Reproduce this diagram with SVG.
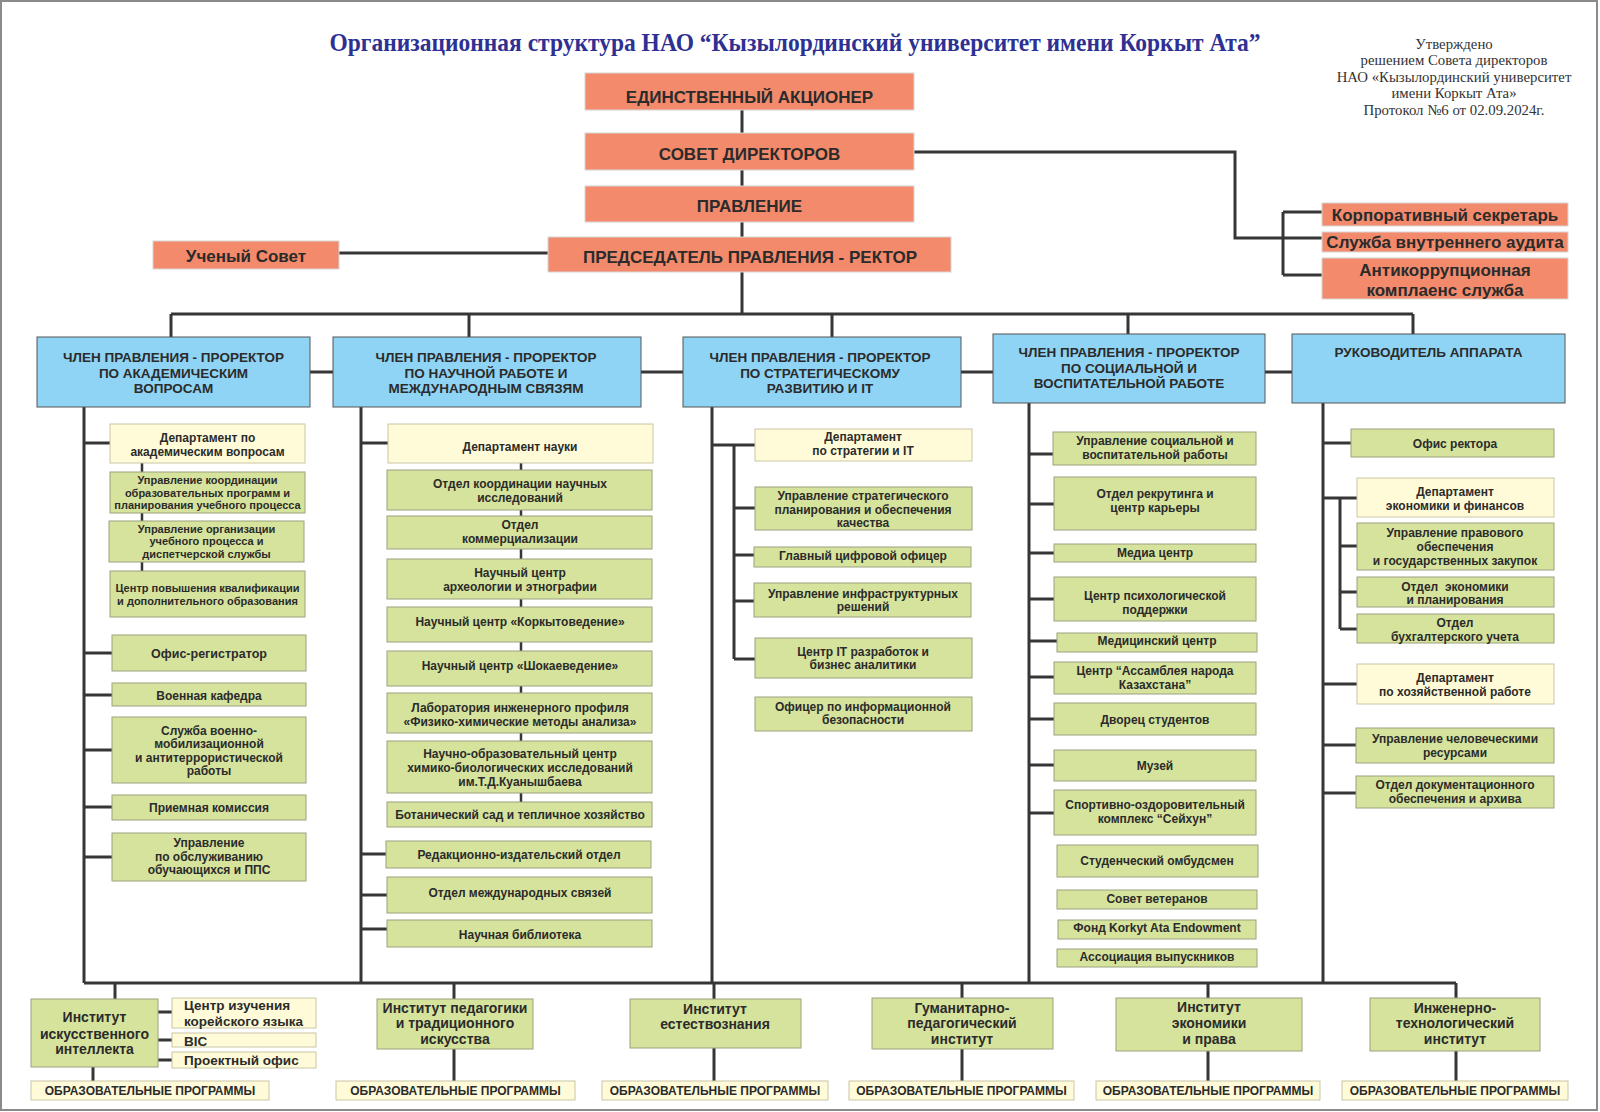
<svg xmlns="http://www.w3.org/2000/svg" width="1600" height="1112" viewBox="0 0 1600 1112">
<style>
.o{fill:#f38a6c;stroke:#d6d6d6;stroke-width:1}
.h{fill:#8fd4f5;stroke:#555;stroke-width:1}
.g{fill:#d6e39c;stroke:#9ca27e;stroke-width:1}
.c{fill:#fffbd8;stroke:#c9c6a6;stroke-width:1}
.ln{stroke:#363636;stroke-width:3;fill:none}
.lt{stroke:#363636;stroke-width:2.5;fill:none}
text{font-family:"Liberation Sans",Arial,sans-serif;font-weight:bold;fill:#2b2b2b;text-anchor:middle}
.to{font-size:17px}
.th{font-size:13.5px}
.s11{font-size:11px}
.s12{font-size:12px}
.s125{font-size:12.5px}
.ti{font-size:14px}
.tp{font-size:12px}
.tl{text-anchor:start;font-size:13.5px}
text.title{font-family:"Liberation Serif","Times New Roman",serif;font-size:25px;fill:#2e3192}
text.appr{font-family:"Liberation Serif","Times New Roman",serif;font-weight:normal;font-size:14.8px;fill:#333}
</style>
<rect x="1" y="1" width="1596" height="1109" fill="#fff" stroke="#8a8a8a" stroke-width="2"/>
<text class="title" x="795" y="51" textLength="931" lengthAdjust="spacingAndGlyphs">Организационная структура НАО “Кызылординский университет имени Коркыт Ата”</text>
<g id="approval">
<text class="appr" x="1454" y="48.5">Утверждено</text>
<text class="appr" x="1454" y="65">решением Совета директоров</text>
<text class="appr" x="1454" y="81.5">НАО «Кызылординский университет</text>
<text class="appr" x="1454" y="98">имени Коркыт Ата»</text>
<text class="appr" x="1454" y="114.5">Протокол №6 от 02.09.2024г.</text>
</g>

<g id="connectors">
<path class="ln" d="M742 110V133M742 170V186M742 222V237M742 272V314"/>
<path class="ln" d="M914 152H1235V238H1322M1283 212V275M1283 212H1322M1283 275H1322"/>
<path class="ln" d="M339 253H548" stroke-width="4"/>
<path class="ln" d="M171 314H1413M171 314V337M469 314V337M832 314V337M1128 314V334M1413 314V334" stroke-width="3.5"/>
<path class="ln" d="M310 372H333M641 372H683M961 372H993M1265 372H1292" stroke-width="3.5"/>
<path class="ln" d="M84 407V983M361 407V983M712 407V983M1029 403V983M1323 403V983"/>
<path class="ln" d="M84 983H1456" stroke-width="3.5"/>
<path class="ln" d="M115 983V999M454 983V999M714 983V999M962 983V998M1208 983V998M1456 983V998"/>
<path class="ln" d="M93 1067V1081M454 1049V1081M714 1048V1081M962 1049V1081M1208 1051V1081M1456 1051V1081"/>
<path class="ln" d="M158 1012H172M158 1040H172M158 1060H172"/>
<path class="ln" d="M84 443H110M84 653H112M84 695H112M84 750H112M84 807H112M84 857H112" stroke-width="3.5"/>
<path class="lt" d="M142 463V472M142 513V521M142 562V571"/>
<path class="ln" d="M361 443H388M361 854H386M361 895H387M361 929H387" stroke-width="3.5"/>
<path class="lt" d="M521 463V470M521 510V516M521 549V559M521 599V607M521 642V651M521 686V693M521 733V741M521 793V802"/>
<path class="ln" d="M712 445H755M734 445V659M734 508H755M734 555H754M734 601H754M734 659H755"/>
<path class="ln" d="M1029 454H1053M1029 504H1054M1029 553H1054M1029 599H1054M1029 641H1057M1029 677H1054M1029 719H1054M1029 765H1054M1029 813H1054"/>
<path class="ln" d="M1323 443H1351M1323 498H1357M1340 498V629M1340 546H1357M1340 592H1357M1340 629H1357M1323 684H1357M1323 745H1356M1323 793H1356"/>
</g>

<g id="n-shareholder"><rect class="o" x="585" y="73" width="329" height="37"/><text class="to" x="749.5" y="102.5">ЕДИНСТВЕННЫЙ АКЦИОНЕР</text></g>
<g id="n-board"><rect class="o" x="585" y="133" width="329" height="37"/><text class="to" x="749.5" y="160">СОВЕТ ДИРЕКТОРОВ</text></g>
<g id="n-pravlenie"><rect class="o" x="585" y="186" width="329" height="36"/><text class="to" x="749.5" y="212">ПРАВЛЕНИЕ</text></g>
<g id="n-rector"><rect class="o" x="548" y="237" width="403" height="35"/><text class="to" x="750" y="263">ПРЕДСЕДАТЕЛЬ ПРАВЛЕНИЯ - РЕКТОР</text></g>
<g id="n-council"><rect class="o" x="153" y="241" width="186" height="28"/><text class="to" x="246" y="261.5">Ученый Совет</text></g>
<g id="n-corpsec"><rect class="o" x="1322" y="203" width="246" height="23"/><text class="to" x="1445" y="220.5">Корпоративный секретарь</text></g>
<g id="n-audit"><rect class="o" x="1322" y="232" width="246" height="20"/><text class="to" x="1445" y="248">Служба внутреннего аудита</text></g>
<g id="n-anticorr"><rect class="o" x="1322" y="258" width="246" height="41"/><text class="to" x="1445" y="276">Антикоррупционная</text><text class="to" x="1445" y="296">комплаенс служба</text></g>

<g id="h-acad"><rect class="h" x="37" y="337" width="273" height="70"/><text class="th" x="173.5" y="362">ЧЛЕН ПРАВЛЕНИЯ - ПРОРЕКТОР</text><text class="th" x="173.5" y="378">ПО АКАДЕМИЧЕСКИМ</text><text class="th" x="173.5" y="393">ВОПРОСАМ</text></g>
<g id="h-science"><rect class="h" x="333" y="337" width="308" height="70"/><text class="th" x="486" y="362">ЧЛЕН ПРАВЛЕНИЯ - ПРОРЕКТОР</text><text class="th" x="486" y="378">ПО НАУЧНОЙ РАБОТЕ И</text><text class="th" x="486" y="393">МЕЖДУНАРОДНЫМ СВЯЗЯМ</text></g>
<g id="h-strategy"><rect class="h" x="683" y="337" width="278" height="70"/><text class="th" x="820" y="362">ЧЛЕН ПРАВЛЕНИЯ - ПРОРЕКТОР</text><text class="th" x="820" y="378">ПО СТРАТЕГИЧЕСКОМУ</text><text class="th" x="820" y="393">РАЗВИТИЮ И IT</text></g>
<g id="h-social"><rect class="h" x="993" y="334" width="272" height="69"/><text class="th" x="1129" y="357">ЧЛЕН ПРАВЛЕНИЯ - ПРОРЕКТОР</text><text class="th" x="1129" y="373">ПО СОЦИАЛЬНОЙ И</text><text class="th" x="1129" y="388">ВОСПИТАТЕЛЬНОЙ РАБОТЕ</text></g>
<g id="h-apparat"><rect class="h" x="1292" y="334" width="273" height="69"/><text class="th" x="1428.5" y="357">РУКОВОДИТЕЛЬ АППАРАТА</text></g>

<g id="c1-1"><rect class="c" x="110" y="424" width="195" height="39"/><text class="s12" x="207.5" y="441.5">Департамент по</text><text class="s12" x="207.5" y="455.5">академическим вопросам</text></g>
<g id="c1-2"><rect class="g" x="110" y="472" width="195" height="41"/><text class="s11" x="207.5" y="484">Управление координации</text><text class="s11" x="207.5" y="496.5">образовательных программ и</text><text class="s11" x="207.5" y="509">планирования учебного процесса</text></g>
<g id="c1-3"><rect class="g" x="109" y="521" width="195" height="41"/><text class="s11" x="206.5" y="532.5">Управление организации</text><text class="s11" x="206.5" y="545">учебного процесса и</text><text class="s11" x="206.5" y="557.5">диспетчерской службы</text></g>
<g id="c1-4"><rect class="g" x="110" y="571" width="195" height="46"/><text class="s11" x="207.5" y="592">Центр повышения квалификации</text><text class="s11" x="207.5" y="605">и дополнительного образования</text></g>
<g id="c1-5"><rect class="g" x="112" y="635" width="194" height="36"/><text class="s125" x="209" y="657.5">Офис-регистратор</text></g>
<g id="c1-6"><rect class="g" x="112" y="683" width="194" height="23"/><text class="s12" x="209" y="699.5">Военная кафедра</text></g>
<g id="c1-7"><rect class="g" x="112" y="717" width="194" height="66"/><text class="s12" x="209" y="734.5">Служба военно-</text><text class="s12" x="209" y="748">мобилизационной</text><text class="s12" x="209" y="761.5">и антитеррористической</text><text class="s12" x="209" y="775">работы</text></g>
<g id="c1-8"><rect class="g" x="112" y="795" width="194" height="25"/><text class="s12" x="209" y="811.5">Приемная комиссия</text></g>
<g id="c1-9"><rect class="g" x="112" y="833" width="194" height="48"/><text class="s12" x="209" y="846.5">Управление</text><text class="s12" x="209" y="860.5">по обслуживанию</text><text class="s12" x="209" y="873.5">обучающихся и ППС</text></g>

<g id="c2-1"><rect class="c" x="388" y="424" width="265" height="39"/><text class="s12" x="520" y="451">Департамент науки</text></g>
<g id="c2-2"><rect class="g" x="387" y="470" width="265" height="40"/><text class="s12" x="520" y="487.5">Отдел координации научных</text><text class="s12" x="520" y="501.5">исследований</text></g>
<g id="c2-3"><rect class="g" x="387" y="516" width="265" height="33"/><text class="s12" x="520" y="528.5">Отдел</text><text class="s12" x="520" y="542.5">коммерциализации</text></g>
<g id="c2-4"><rect class="g" x="387" y="559" width="265" height="40"/><text class="s12" x="520" y="576.5">Научный центр</text><text class="s12" x="520" y="590.5">археологии и этнографии</text></g>
<g id="c2-5"><rect class="g" x="387" y="607" width="265" height="35"/><text class="s12" x="520" y="625.5">Научный центр «Коркытоведение»</text></g>
<g id="c2-6"><rect class="g" x="387" y="651" width="265" height="35"/><text class="s12" x="520" y="669.5">Научный центр «Шокаеведение»</text></g>
<g id="c2-7"><rect class="g" x="387" y="693" width="265" height="40"/><text class="s12" x="520" y="711.5">Лаборатория инженерного профиля</text><text class="s12" x="520" y="725.5">«Физико-химические методы анализа»</text></g>
<g id="c2-8"><rect class="g" x="387" y="741" width="265" height="52"/><text class="s12" x="520" y="757.5">Научно-образовательный центр</text><text class="s12" x="520" y="771.5">химико-биологических исследований</text><text class="s12" x="520" y="785.5">им.Т.Д.Куанышбаева</text></g>
<g id="c2-9"><rect class="g" x="387" y="802" width="265" height="25"/><text class="s12" x="520" y="819">Ботанический сад и тепличное хозяйство</text></g>
<g id="c2-10"><rect class="g" x="386" y="841" width="265" height="27"/><text class="s12" x="519" y="858.5">Редакционно-издательский отдел</text></g>
<g id="c2-11"><rect class="g" x="387" y="877" width="265" height="36"/><text class="s12" x="520" y="896.5">Отдел международных связей</text></g>
<g id="c2-12"><rect class="g" x="387" y="920" width="265" height="27"/><text class="s12" x="520" y="939">Научная библиотека</text></g>

<g id="c3-1"><rect class="c" x="755" y="429" width="217" height="32"/><text class="s12" x="863" y="440.5">Департамент</text><text class="s12" x="863" y="454.5">по стратегии и IT</text></g>
<g id="c3-2"><rect class="g" x="755" y="487" width="217" height="43"/><text class="s12" x="863" y="499.5">Управление стратегического</text><text class="s12" x="863" y="513.5">планирования и обеспечения</text><text class="s12" x="863" y="527">качества</text></g>
<g id="c3-3"><rect class="g" x="754" y="547" width="217" height="20"/><text class="s12" x="863" y="559.5">Главный цифровой офицер</text></g>
<g id="c3-4"><rect class="g" x="754" y="583" width="217" height="34"/><text class="s12" x="863" y="597.5">Управление инфраструктурных</text><text class="s12" x="863" y="610.5">решений</text></g>
<g id="c3-5"><rect class="g" x="755" y="638" width="217" height="40"/><text class="s12" x="863" y="655.5">Центр IT разработок и</text><text class="s12" x="863" y="668.5">бизнес аналитики</text></g>
<g id="c3-6"><rect class="g" x="755" y="697" width="217" height="34"/><text class="s12" x="863" y="710.5">Офицер по информационной</text><text class="s12" x="863" y="724">безопасности</text></g>

<g id="c4-1"><rect class="g" x="1053" y="432" width="203" height="33"/><text class="s12" x="1155" y="444.5">Управление социальной и</text><text class="s12" x="1155" y="458.5">воспитательной работы</text></g>
<g id="c4-2"><rect class="g" x="1054" y="477" width="202" height="53"/><text class="s12" x="1155" y="497.5">Отдел рекрутинга и</text><text class="s12" x="1155" y="511.5">центр карьеры</text></g>
<g id="c4-3"><rect class="g" x="1054" y="544" width="202" height="18"/><text class="s12" x="1155" y="556.5">Медиа центр</text></g>
<g id="c4-4"><rect class="g" x="1054" y="577" width="202" height="44"/><text class="s12" x="1155" y="599.5">Центр психологической</text><text class="s12" x="1155" y="613.5">поддержки</text></g>
<g id="c4-5"><rect class="g" x="1057" y="633" width="200" height="19"/><text class="s12" x="1157" y="645">Медицинский центр</text></g>
<g id="c4-6"><rect class="g" x="1054" y="662" width="202" height="32"/><text class="s12" x="1155" y="674.5">Центр “Ассамблея народа</text><text class="s12" x="1155" y="688.5">Казахстана”</text></g>
<g id="c4-7"><rect class="g" x="1054" y="703" width="202" height="32"/><text class="s12" x="1155" y="724">Дворец студентов</text></g>
<g id="c4-8"><rect class="g" x="1054" y="750" width="202" height="31"/><text class="s12" x="1155" y="770">Музей</text></g>
<g id="c4-9"><rect class="g" x="1054" y="790" width="202" height="45"/><text class="s12" x="1155" y="808.5">Спортивно-оздоровительный</text><text class="s12" x="1155" y="822.5">комплекс “Сейхун”</text></g>
<g id="c4-10"><rect class="g" x="1057" y="845" width="201" height="32"/><text class="s12" x="1157" y="864.5">Студенческий омбудсмен</text></g>
<g id="c4-11"><rect class="g" x="1057" y="890" width="200" height="19"/><text class="s12" x="1157" y="902.5">Совет ветеранов</text></g>
<g id="c4-12"><rect class="g" x="1058" y="920" width="198" height="19"/><text class="s12" x="1157" y="931.5">Фонд Korkyt Ata Endowment</text></g>
<g id="c4-13"><rect class="g" x="1057" y="949" width="200" height="18"/><text class="s12" x="1157" y="961">Ассоциация выпускников</text></g>

<g id="c5-1"><rect class="g" x="1351" y="429" width="203" height="28"/><text class="s12" x="1455" y="447.5">Офис ректора</text></g>
<g id="c5-2"><rect class="c" x="1357" y="478" width="197" height="39"/><text class="s12" x="1455" y="495.5">Департамент</text><text class="s12" x="1455" y="509.5">экономики и финансов</text></g>
<g id="c5-3"><rect class="g" x="1357" y="523" width="197" height="47"/><text class="s12" x="1455" y="536.5">Управление правового</text><text class="s12" x="1455" y="550.5">обеспечения</text><text class="s12" x="1455" y="564.5">и государственных закупок</text></g>
<g id="c5-4"><rect class="g" x="1357" y="577" width="197" height="30"/><text class="s12" x="1455" y="590.5" xml:space="preserve">Отдел  экономики</text><text class="s12" x="1455" y="603.5">и планирования</text></g>
<g id="c5-5"><rect class="g" x="1357" y="614" width="197" height="29"/><text class="s12" x="1455" y="626.5">Отдел</text><text class="s12" x="1455" y="640.5">бухгалтерского учета</text></g>
<g id="c5-6"><rect class="c" x="1357" y="664" width="197" height="40"/><text class="s12" x="1455" y="681.5">Департамент</text><text class="s12" x="1455" y="696">по хозяйственной работе</text></g>
<g id="c5-7"><rect class="g" x="1356" y="728" width="198" height="35"/><text class="s12" x="1455" y="742.5">Управление человеческими</text><text class="s12" x="1455" y="757">ресурсами</text></g>
<g id="c5-8"><rect class="g" x="1356" y="776" width="198" height="32"/><text class="s12" x="1455" y="788.5">Отдел документационного</text><text class="s12" x="1455" y="802.5">обеспечения и архива</text></g>

<g id="i-ai"><rect class="g" x="31" y="999" width="127" height="68"/><text class="ti" x="94.5" y="1022">Институт</text><text class="ti" x="94.5" y="1039">искусственного</text><text class="ti" x="94.5" y="1054">интеллекта</text></g>
<g id="i-ai-korean"><rect class="c" x="172" y="998" width="144" height="30"/><text class="tl" x="184" y="1010">Центр изучения</text><text class="tl" x="184" y="1025.5">корейского языка</text></g>
<g id="i-ai-bic"><rect class="c" x="172" y="1033" width="144" height="14"/><text class="tl" x="184" y="1045.5">BIC</text></g>
<g id="i-ai-proj"><rect class="c" x="172" y="1052" width="144" height="16"/><text class="tl" x="184" y="1065">Проектный офис</text></g>
<g id="i-ped"><rect class="g" x="377" y="999" width="156" height="50"/><text class="ti" x="455" y="1013">Институт педагогики</text><text class="ti" x="455" y="1028">и традиционного</text><text class="ti" x="455" y="1044">искусства</text></g>
<g id="i-nat"><rect class="g" x="630" y="999" width="171" height="49"/><text class="ti" x="715" y="1014">Институт</text><text class="ti" x="715" y="1029">естествознания</text></g>
<g id="i-hum"><rect class="g" x="872" y="998" width="181" height="51"/><text class="ti" x="962" y="1013">Гуманитарно-</text><text class="ti" x="962" y="1028">педагогический</text><text class="ti" x="962" y="1044">институт</text></g>
<g id="i-econ"><rect class="g" x="1116" y="998" width="186" height="53"/><text class="ti" x="1209" y="1012">Институт</text><text class="ti" x="1209" y="1028">экономики</text><text class="ti" x="1209" y="1044">и права</text></g>
<g id="i-eng"><rect class="g" x="1370" y="998" width="170" height="53"/><text class="ti" x="1455" y="1013">Инженерно-</text><text class="ti" x="1455" y="1028">технологический</text><text class="ti" x="1455" y="1044">институт</text></g>

<g id="op-1"><rect class="c" x="31" y="1081" width="238" height="19"/><text class="tp" x="150" y="1095">ОБРАЗОВАТЕЛЬНЫЕ ПРОГРАММЫ</text></g>
<g id="op-2"><rect class="c" x="336" y="1081" width="239" height="19"/><text class="tp" x="455.5" y="1095">ОБРАЗОВАТЕЛЬНЫЕ ПРОГРАММЫ</text></g>
<g id="op-3"><rect class="c" x="602" y="1081" width="226" height="19"/><text class="tp" x="715" y="1095">ОБРАЗОВАТЕЛЬНЫЕ ПРОГРАММЫ</text></g>
<g id="op-4"><rect class="c" x="849" y="1081" width="225" height="19"/><text class="tp" x="961.5" y="1095">ОБРАЗОВАТЕЛЬНЫЕ ПРОГРАММЫ</text></g>
<g id="op-5"><rect class="c" x="1096" y="1081" width="224" height="19"/><text class="tp" x="1208" y="1095">ОБРАЗОВАТЕЛЬНЫЕ ПРОГРАММЫ</text></g>
<g id="op-6"><rect class="c" x="1342" y="1081" width="226" height="19"/><text class="tp" x="1455" y="1095">ОБРАЗОВАТЕЛЬНЫЕ ПРОГРАММЫ</text></g>
</svg>
